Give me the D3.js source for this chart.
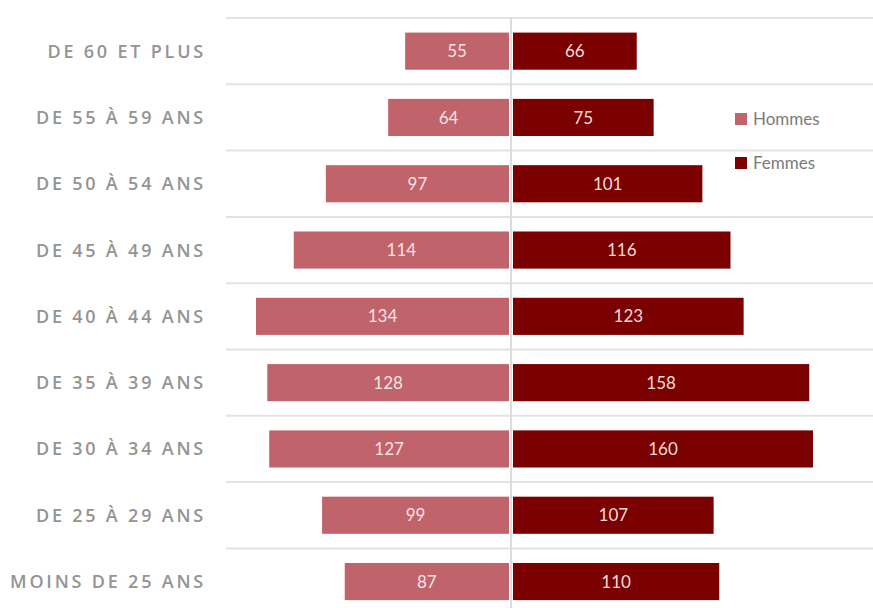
<!DOCTYPE html>
<html><head><meta charset="utf-8">
<script src="https://cdn.jsdelivr.net/npm/d3@7"></script>
<style>body{margin:0;background:#fff;}svg{display:block;}</style>
</head><body>
<script>
const categories = ["DE 60 ET PLUS","DE 55 À 59 ANS","DE 50 À 54 ANS","DE 45 À 49 ANS","DE 40 À 44 ANS","DE 35 À 39 ANS","DE 30 À 34 ANS","DE 25 À 29 ANS","MOINS DE 25 ANS"];
const hommes = [55,64,97,114,134,128,127,99,87];
const femmes = [66,75,101,116,123,158,160,107,110];
const seriesNames = ["Hommes","Femmes"];
const colors = ["#C0636B","#7B0000"];

const W=873,H=608, cx=511;
const svg=d3.select("body").append("svg").attr("width",W).attr("height",H);
const y=d3.scaleBand().domain(categories).range([18,18+66.3*9]).paddingInner(0.44).paddingOuter(0.22);
const xR=d3.scaleLinear().domain([0,160]).range([cx+2,cx+2+300]);
const xL=d3.scaleLinear().domain([0,134]).range([cx-2,cx-2-253]);
// gridlines
const gl=d3.range(categories.length+1).map(i=>18+i*66.3);
svg.selectAll("line.g").data(gl).enter().append("line")
  .attr("x1",226).attr("x2",W).attr("y1",d=>d).attr("y2",d=>d)
  .attr("stroke","#e3e3e3").attr("stroke-width",2);
svg.append("line").attr("x1",cx).attr("x2",cx).attr("y1",17).attr("y2",H)
  .attr("stroke","#dcdcdc").attr("stroke-width",2);
// bars
svg.selectAll("rect.h").data(categories).enter().append("rect")
  .attr("x",(d,i)=>xL(hommes[i])).attr("width",(d,i)=>xL(0)-xL(hommes[i]))
  .attr("y",d=>y(d)).attr("height",y.bandwidth()).attr("fill",colors[0]);
svg.selectAll("rect.f").data(categories).enter().append("rect")
  .attr("x",xR(0)).attr("width",(d,i)=>xR(femmes[i])-xR(0))
  .attr("y",d=>y(d)).attr("height",y.bandwidth()).attr("fill",colors[1]);
// values
const vf="Lato, 'Open Sans', sans-serif";
svg.selectAll("text.vh").data(categories).enter().append("text")
  .attr("x",(d,i)=>(xL(hommes[i])+xL(0))/2).attr("y",d=>y(d)+y.bandwidth()/2)
  .attr("dy","0.36em").attr("text-anchor","middle").attr("fill","#f3e3e3")
  .attr("font-family",vf).attr("font-size",17).text((d,i)=>hommes[i]);
svg.selectAll("text.vf").data(categories).enter().append("text")
  .attr("x",(d,i)=>(xR(femmes[i])+xR(0))/2).attr("y",d=>y(d)+y.bandwidth()/2)
  .attr("dy","0.36em").attr("text-anchor","middle").attr("fill","#f0dcdc")
  .attr("font-family",vf).attr("font-size",17).text((d,i)=>femmes[i]);
// category labels
svg.selectAll("text.c").data(categories).enter().append("text")
  .attr("x",206).attr("y",d=>y(d)+y.bandwidth()/2).attr("dy","0.36em")
  .attr("text-anchor","end").attr("fill","#949494")
  .attr("font-family","'Open Sans', sans-serif").attr("font-size",18).attr("font-weight",600)
  .attr("letter-spacing","2.8px").text(d=>d);
// legend
const lg=svg.append("g");
seriesNames.forEach((s,i)=>{
  const ly=119+i*44;
  lg.append("rect").attr("x",735).attr("y",ly-6).attr("width",12).attr("height",12).attr("fill",colors[i]);
  lg.append("text").attr("x",753).attr("y",ly).attr("dy","0.36em").attr("fill","#7a7a7a")
    .attr("font-family",vf).attr("font-size",17).text(s);
});
</script>
</body></html>
